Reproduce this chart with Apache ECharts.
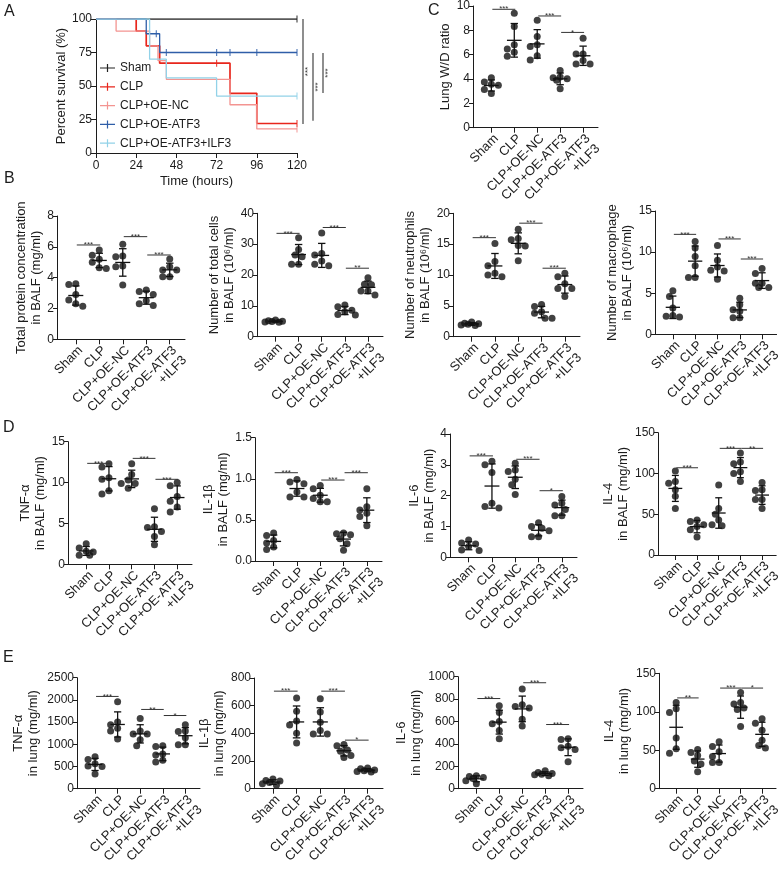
<!DOCTYPE html>
<html style="height: 100%">
<head>
    <meta charset="utf-8">
</head>
<body style="height: 100%; margin: 0; background: #fff;">
<div id="container" style="width: 784px; height: 876px;"></div>
<script type="text/javascript" src="https://cdn.jsdelivr.net/npm/echarts@6/dist/echarts.min.js"></script>
<script type="text/javascript">
// ---- data ----
var groups = ['Sham', 'CLP', 'CLP+OE-NC', 'CLP+OE-ATF3', 'CLP+OE-ATF3\n+ILF3'];

// A: Kaplan-Meier curves [time (h), survival %]
var survSham = [[0, 100], [120, 100]];
var survCLP = [[0, 100], [24, 91], [30, 80], [38, 67], [80, 44.5], [96, 22], [120, 22]];
var survNC = [[0, 100], [12, 91], [32, 80], [37, 69], [42, 55], [80, 36], [96, 18], [120, 18]];
var survATF3 = [[0, 100], [30, 89], [38, 75], [120, 75]];
var survILF3 = [[0, 100], [32, 70], [42, 56], [72, 42.5], [120, 42.5]];
var censorSham = [120];
var censorCLP = [72, 120];
var censorNC = [120];
var censorATF3 = [36, 42, 72, 80, 96, 120];
var censorILF3 = [120];
// [upper %, lower %, label]
var survSig = [[100, 21.6, '***'], [74.6, 24, '***'], [74.6, 44.8, '***']];

// C
var wdRatio = [[3.75, 4.10, 3.48, 3.56, 3.13, 2.80], [9.40, 8.32, 6.47, 6.82, 5.87, 6.20], [8.83, 7.50, 6.82, 6.68, 5.57, 5.92], [4.70, 4.16, 4.10, 3.89, 4.02, 3.21], [7.34, 6.06, 6.06, 5.24, 5.24, 5.52]];
var wdSig = [[0, 1, 9.73, '***'], [2, 3, 9.18, '***'], [3, 4, 7.83, '*']];
// B
var protein = [[3.6, 3.55, 2.9, 2.55, 2.15, 2.3], [5.8, 5.45, 5.0, 5.2, 4.6, 4.65], [6.16, 5.36, 5.41, 4.71, 4.76, 3.52], [3.2, 3.1, 2.9, 2.5, 2.2, 2.3], [5.21, 4.71, 4.5, 4.06, 4.06, 4.5]];
var proteinSig = [[0, 1, 6.12, '***'], [2, 3, 6.66, '***'], [3, 4, 5.47, '***']];
var totalCells = [[5.4, 5.2, 5.0, 4.9, 4.8, 4.7], [32.1, 28.3, 26.5, 25.9, 23.5, 23.5], [33.6, 27.0, 26.5, 24.5, 23.0, 23.5], [10.3, 9.7, 8.6, 8.1, 7.0, 7.2], [19.1, 17.0, 16.8, 14.8, 14.8, 13.5]];
var totalCellsSig = [[0, 1, 33.5, '***'], [2, 3, 35.4, '***'], [3, 4, 22.2, '**']];
var neutrophils = [[2.4, 2.2, 2.1, 2.0, 1.9, 1.8], [15.1, 12.2, 11.5, 10.3, 9.7, 10.0], [17.4, 15.9, 15.7, 14.7, 14.8, 12.3], [5.2, 4.9, 4.05, 3.8, 3.0, 3.0], [10.3, 9.7, 8.6, 7.8, 7.8, 6.5]];
var neutrophilsSig = [[0, 1, 16.05, '***'], [2, 3, 18.4, '***'], [3, 4, 11.1, '***']];
var macrophage = [[5.3, 4.6, 3.2, 2.3, 2.1, 2.2], [11.3, 10.5, 9.45, 8.35, 6.9, 6.9], [10.8, 9.0, 8.2, 7.7, 7.8, 6.7], [4.4, 3.6, 3.0, 2.8, 2.0, 2.0], [8.0, 7.4, 6.2, 6.2, 5.7, 5.7]];
var macrophageSig = [[0, 1, 12.16, '***'], [2, 3, 11.6, '***'], [3, 4, 9.16, '***']];
// D
var tnfBalf = [[2.5, 2.0, 1.6, 1.5, 1.1, 1.1], [12.3, 11.9, 10.6, 10.4, 8.6, 9.0], [12.3, 11.0, 10.3, 9.9, 9.3, 9.9], [6.8, 4.6, 4.0, 4.5, 3.4, 2.4], [10.0, 9.6, 8.3, 7.7, 7.0, 6.4]];
var tnfBalfSig = [[0, 1, 12.35, '***'], [2, 3, 12.96, '***'], [3, 4, 10.4, '***']];
var il1bBalf = [[0.34, 0.31, 0.25, 0.22, 0.17, 0.14], [0.99, 0.96, 0.94, 0.84, 0.78, 0.78], [0.92, 0.88, 0.80, 0.76, 0.72, 0.72], [0.34, 0.33, 0.32, 0.27, 0.21, 0.13], [0.88, 0.66, 0.62, 0.58, 0.54, 0.43]];
var il1bBalfSig = [[0, 1, 1.074, '***'], [2, 3, 0.985, '***'], [3, 4, 1.074, '***']];
var il6Balf = [[0.56, 0.46, 0.43, 0.35, 0.24, 0.22], [3.12, 3.0, 2.75, 1.75, 1.6, 1.65], [3.05, 2.83, 2.78, 2.53, 2.35, 2.04], [1.12, 1.0, 0.94, 0.86, 0.67, 0.67], [1.97, 1.75, 1.70, 1.55, 1.35, 1.35]];
var il6BalfSig = [[0, 1, 3.29, '***'], [2, 3, 3.18, '***'], [3, 4, 2.16, '*']];
var il4Balf = [[103, 90, 88, 80, 72, 57], [43, 41, 37, 35, 31, 22], [86, 57, 50, 43, 36, 37], [125, 114, 112, 102, 100, 90], [89, 80, 79, 68, 68, 57]];
var il4BalfSig = [[0, 1, 107, '***'], [2, 3, 130.8, '***'], [3, 4, 130.8, '**']];
// E
var tnfLung = [[720, 660, 560, 510, 500, 330], [1960, 1500, 1440, 1360, 1300, 1120], [1580, 1300, 1230, 1230, 1100, 970], [970, 950, 780, 760, 640, 600], [1440, 1300, 1290, 1150, 990, 990]];
var tnfLungSig = [[0, 1, 2078, '***'], [2, 3, 1785, '**'], [3, 4, 1648, '*']];
var il1bLung = [[70, 60, 55, 45, 35, 25], [655, 560, 490, 460, 400, 330], [650, 555, 480, 420, 395, 395], [320, 310, 280, 270, 240, 225], [150, 145, 135, 130, 125, 120]];
var il1bLungSig = [[0, 1, 705, '***'], [2, 3, 705, '***'], [3, 4, 351, '*']];
var il6Lung = [[115, 110, 100, 90, 70, 45], [740, 680, 600, 580, 520, 445], [890, 750, 735, 720, 620, 560], [160, 145, 135, 130, 125, 115], [445, 440, 380, 365, 350, 240]];
var il6LungSig = [[0, 1, 805, '***'], [2, 3, 946, '***'], [3, 4, 573, '***']];
var il4Lung = [[112, 104, 99, 66, 52, 46], [47, 51, 43, 36, 32, 22], [61, 55, 48, 42, 34, 34], [125, 112, 110, 105, 103, 81], [91, 85, 76, 63, 56, 53]];
var il4LungSig = [[0, 1, 118, '**'], [2, 3, 130.8, '***'], [3, 4, 130.8, '*']];

// ---- layout / style ----
var FONT = '"Liberation Sans", Arial, sans-serif';
var INK = '#1c1c1c';
var X_MIN = -0.8, X_MAX = 4.65;

var panels = [
    {vals: wdRatio, sig: wdSig, max: 10, step: 2, name: 'Lung W/D ratio', box: [473, 5, 125, 122.7], gap: 7},
    {vals: protein, sig: proteinSig, max: 8, step: 2, name: 'Total protein concentration\nin BALF (mg/ml)', box: [57, 216, 128, 123.3], gap: 6},
    {vals: totalCells, sig: totalCellsSig, max: 40, step: 10, name: 'Number of total cells\nin BALF (10\u2076/ml)', box: [257, 213.3, 126, 123.4], gap: 19},
    {vals: neutrophils, sig: neutrophilsSig, max: 20, step: 5, name: 'Number of neutrophils\nin BALF (10\u2076/ml)', box: [453, 213.3, 127, 123.4], gap: 18},
    {vals: macrophage, sig: macrophageSig, max: 15, step: 5, name: 'Number of macrophage\nin BALF (10\u2076/ml)', box: [655, 211, 127, 123.3], gap: 14},
    {vals: tnfBalf, sig: tnfBalfSig, max: 15, step: 5, name: 'TNF-\u03b1\nin BALF (mg/ml)', box: [68, 441.7, 124, 122.6], gap: 19},
    {vals: il1bBalf, sig: il1bBalfSig, max: 1.5, step: 0.5, digits: 1, name: 'IL-1\u03b2\nin BALF (mg/ml)', box: [255, 437.7, 127, 123.3], gap: 23},
    {vals: il6Balf, sig: il6BalfSig, max: 4, step: 1, name: 'IL-6\nin BALF (mg/ml)', box: [450, 434, 127, 123.3], gap: 12},
    {vals: il4Balf, sig: il4BalfSig, max: 150, step: 50, name: 'IL-4\nin BALF (mg/ml)', box: [658, 432.7, 124, 122.3], gap: 18},
    {vals: tnfLung, sig: tnfLungSig, max: 2500, step: 500, name: 'TNF-\u03b1\nin lung (mg/ml)', box: [77, 677.7, 123, 122.3], gap: 36},
    {vals: il1bLung, sig: il1bLungSig, max: 800, step: 200, name: 'IL-1\u03b2\nin lung (mg/ml)', box: [254, 678, 129, 121.3], gap: 22},
    {vals: il6Lung, sig: il6LungSig, max: 1000, step: 200, name: 'IL-6\nin lung (mg/ml)', box: [458, 676.7, 125, 123.3], gap: 27},
    {vals: il4Lung, sig: il4LungSig, max: 150, step: 50, name: 'IL-4\nin lung (mg/ml)', box: [659, 673.3, 123, 122.7], gap: 24}
];

function mean(a) { return a.reduce(function (s, v) { return s + v; }, 0) / a.length; }
function sd(a) {
    var m = mean(a);
    return Math.sqrt(a.reduce(function (s, v) { return s + (v - m) * (v - m); }, 0) / (a.length - 1));
}

// simple beeswarm: spread points sideways when they would overlap
function swarm(vals, max, box) {
    var ux = box[2] / (X_MAX - X_MIN), uy = box[3] / max;
    var cands = [0, -1, 1, -2, 2, -3, 3];
    var out = [];
    vals.forEach(function (arr, g) {
        var placed = [];
        arr.slice().sort(function (a, b) { return b - a; }).forEach(function (v) {
            var best = null, bestD = -1;
            for (var k = 0; k < cands.length; k++) {
                var dx = cands[k] * 3.5, dmin = Infinity;
                placed.forEach(function (p) {
                    var ddx = dx - p[0], ddy = (v - p[1]) * uy;
                    dmin = Math.min(dmin, Math.sqrt(ddx * ddx + ddy * ddy));
                });
                if (dmin >= 6.5) { best = dx; break; }
                if (dmin > bestD) { bestD = dmin; best = dx; }
            }
            placed.push([best, v]);
        });
        placed.forEach(function (p) { out.push([g + p[0] / ux, p[1]]); });
    });
    return out;
}

function levelAt(curve, t) {
    var v = curve[0][1];
    curve.forEach(function (p) { if (p[0] <= t) v = p[1]; });
    return v;
}

var axisLineStyle = {color: INK, width: 1};
var option = {
    animation: false,
    backgroundColor: '#fff',
    textStyle: {fontFamily: FONT, color: INK},
    grid: [{left: 96, top: 19, width: 201, height: 134}],
    xAxis: [{
        gridIndex: 0, type: 'value', min: 0, max: 120, interval: 24,
        name: 'Time (hours)', nameLocation: 'middle', nameGap: 22,
        nameTextStyle: {fontSize: 13, color: INK},
        axisLine: {show: true, onZero: false, lineStyle: axisLineStyle},
        axisTick: {show: true, length: 5, lineStyle: axisLineStyle},
        axisLabel: {fontSize: 12, color: INK, margin: 7},
        splitLine: {show: false}
    }],
    yAxis: [{
        gridIndex: 0, type: 'value', min: 0, max: 100, interval: 25,
        name: 'Percent survival (%)', nameLocation: 'middle', nameGap: 25,
        nameTextStyle: {fontSize: 13, color: INK},
        axisLine: {show: true, onZero: false, lineStyle: axisLineStyle},
        axisTick: {show: true, length: 5, lineStyle: axisLineStyle},
        axisLabel: {fontSize: 12, color: INK, margin: 4},
        splitLine: {show: false}
    }],
    legend: {
        left: 100, top: 62, orient: 'vertical', padding: 0,
        itemWidth: 15, itemHeight: 12, itemGap: 6.8,
        textStyle: {fontSize: 12, color: INK},
        data: []
    },
    series: [],
    graphic: [
        {type: 'text', left: 4, top: 4, style: {text: 'A', fontSize: 16, fontFamily: FONT, fill: INK}},
        {type: 'text', left: 428, top: 3, style: {text: 'C', fontSize: 16, fontFamily: FONT, fill: INK}},
        {type: 'text', left: 4, top: 171, style: {text: 'B', fontSize: 16, fontFamily: FONT, fill: INK}},
        {type: 'text', left: 3, top: 420, style: {text: 'D', fontSize: 16, fontFamily: FONT, fill: INK}},
        {type: 'text', left: 3, top: 650, style: {text: 'E', fontSize: 16, fontFamily: FONT, fill: INK}}
    ]
};

// ---- A: survival ----
var survList = [
    {name: 'Sham', data: survSham, censor: censorSham, color: '#222222', w: 1.3},
    {name: 'CLP', data: survCLP, censor: censorCLP, color: '#e8261c', w: 1.7},
    {name: 'CLP+OE-NC', data: survNC, censor: censorNC, color: '#f39491', w: 1.3},
    {name: 'CLP+OE-ATF3', data: survATF3, censor: censorATF3, color: '#2f5ea8', w: 1.3},
    {name: 'CLP+OE-ATF3+ILF3', data: survILF3, censor: censorILF3, color: '#92d2e8', w: 1.3}
];
survList.forEach(function (s) {
    option.series.push({
        name: s.name, type: 'line', xAxisIndex: 0, yAxisIndex: 0,
        step: 'end', data: s.data, showSymbol: false, symbol: 'none',
        lineStyle: {color: s.color, width: s.w}, itemStyle: {color: s.color}
    });
    option.series.push({
        name: s.name + ' censored', type: 'scatter', xAxisIndex: 0, yAxisIndex: 0,
        symbol: 'rect', symbolSize: [1.2, 7],
        data: s.censor.map(function (t) { return [t, levelAt(s.data, t)]; }),
        itemStyle: {color: s.color}
    });
    option.legend.data.push({name: s.name, icon: 'path://M0,4.4H15V5.6H0Z M6.9,1H8.1V9H6.9Z'});
});
option.series.push({
    type: 'custom', xAxisIndex: 0, yAxisIndex: 0, clip: false, silent: true,
    encode: {x: -1, y: [0, 1]},
    data: survSig.map(function (s) { return [s[0], s[1]]; }),
    renderItem: function (params, api) {
        var i = params.dataIndex;
        var p1 = api.coord([120, api.value(0)]), p2 = api.coord([120, api.value(1)]);
        var x = p1[0] + 6 + i * 10;
        return {
            type: 'group', children: [
                {type: 'line', shape: {x1: x, y1: p1[1], x2: x, y2: p2[1]}, style: {stroke: '#444', lineWidth: 1.2}},
                {type: 'text', x: x + 5, y: (p1[1] + p2[1]) / 2, rotation: Math.PI / 2,
                    style: {text: survSig[i][2], fontSize: 8, fontFamily: FONT, fill: '#333',
                        align: 'center', verticalAlign: 'middle', textAlign: 'center', textVerticalAlign: 'middle'}}
            ]
        };
    }
});

// ---- dot plots ----
panels.forEach(function (p, i) {
    var gi = i + 1;
    option.grid.push({left: p.box[0], top: p.box[1], width: p.box[2], height: p.box[3]});
    option.xAxis.push({
        gridIndex: gi, type: 'value', min: X_MIN, max: X_MAX,
        axisLine: {show: true, onZero: false, lineStyle: axisLineStyle},
        axisTick: {show: true, customValues: [0, 1, 2, 3, 4], length: 5, lineStyle: axisLineStyle},
        axisLabel: {
            customValues: [0, 1, 2, 3, 4], rotate: 45, fontSize: 13, color: INK, margin: 4, lineHeight: 14,
            verticalAlign: 'top', showMinLabel: true, showMaxLabel: true, hideOverlap: false,
            formatter: function (v) { return groups[Math.round(v)]; }
        },
        splitLine: {show: false}
    });
    option.yAxis.push({
        gridIndex: gi, type: 'value', min: 0, max: p.max, interval: p.step,
        name: p.name, nameLocation: 'middle', nameGap: p.gap,
        nameTextStyle: {fontSize: 13, lineHeight: 15, color: INK},
        axisLine: {show: true, onZero: false, lineStyle: axisLineStyle},
        axisTick: {show: true, length: 4, lineStyle: axisLineStyle},
        axisLabel: {
            fontSize: 12, color: INK, margin: 3,
            formatter: function (v) { return p.digits ? v.toFixed(p.digits) : String(v); }
        },
        splitLine: {show: false}
    });
    option.series.push({
        type: 'scatter', xAxisIndex: gi, yAxisIndex: gi, z: 3,
        symbolSize: 7, itemStyle: {color: '#111'},
        data: swarm(p.vals, p.max, p.box)
    });
    option.series.push({
        type: 'custom', xAxisIndex: gi, yAxisIndex: gi, z: 4, silent: true, clip: false,
        encode: {x: 0, y: 1},
        data: p.vals.map(function (a, g) { return [g, mean(a), sd(a)]; }),
        renderItem: function (params, api) {
            var g = api.value(0), m = api.value(1), s = api.value(2);
            var c = api.coord([g, m]), top = api.coord([g, m + s]), bot = api.coord([g, m - s]);
            var w = api.size([1, 0])[0];
            var hw = w * 0.32, cw = w * 0.16;
            var st = {stroke: '#111', lineWidth: 1.3};
            return {
                type: 'group', children: [
                    {type: 'line', shape: {x1: c[0] - hw, y1: c[1], x2: c[0] + hw, y2: c[1]}, style: st},
                    {type: 'line', shape: {x1: top[0], y1: top[1], x2: bot[0], y2: bot[1]}, style: st},
                    {type: 'line', shape: {x1: top[0] - cw, y1: top[1], x2: top[0] + cw, y2: top[1]}, style: st},
                    {type: 'line', shape: {x1: bot[0] - cw, y1: bot[1], x2: bot[0] + cw, y2: bot[1]}, style: st}
                ]
            };
        }
    });
    option.series.push({
        type: 'custom', xAxisIndex: gi, yAxisIndex: gi, z: 4, silent: true, clip: false,
        encode: {x: [0, 1], y: 2},
        data: p.sig.map(function (s) { return [s[0], s[1], s[2]]; }),
        renderItem: function (params, api) {
            var a = api.coord([api.value(0), api.value(2)]), b = api.coord([api.value(1), api.value(2)]);
            var x1 = a[0] + 1, x2 = b[0] + 1;
            return {
                type: 'group', children: [
                    {type: 'line', shape: {x1: x1, y1: a[1], x2: x2, y2: a[1]}, style: {stroke: '#333', lineWidth: 1}},
                    {type: 'text', x: (x1 + x2) / 2, y: a[1] + 4,
                        style: {text: p.sig[params.dataIndex][3], fontSize: 8, fontFamily: FONT, fill: '#333',
                            align: 'center', verticalAlign: 'bottom', textAlign: 'center', textVerticalAlign: 'bottom'}}
                ]
            };
        }
    });
});

var chart = echarts.init(document.getElementById('container'));
chart.setOption(option);
</script>
</body>
</html>
